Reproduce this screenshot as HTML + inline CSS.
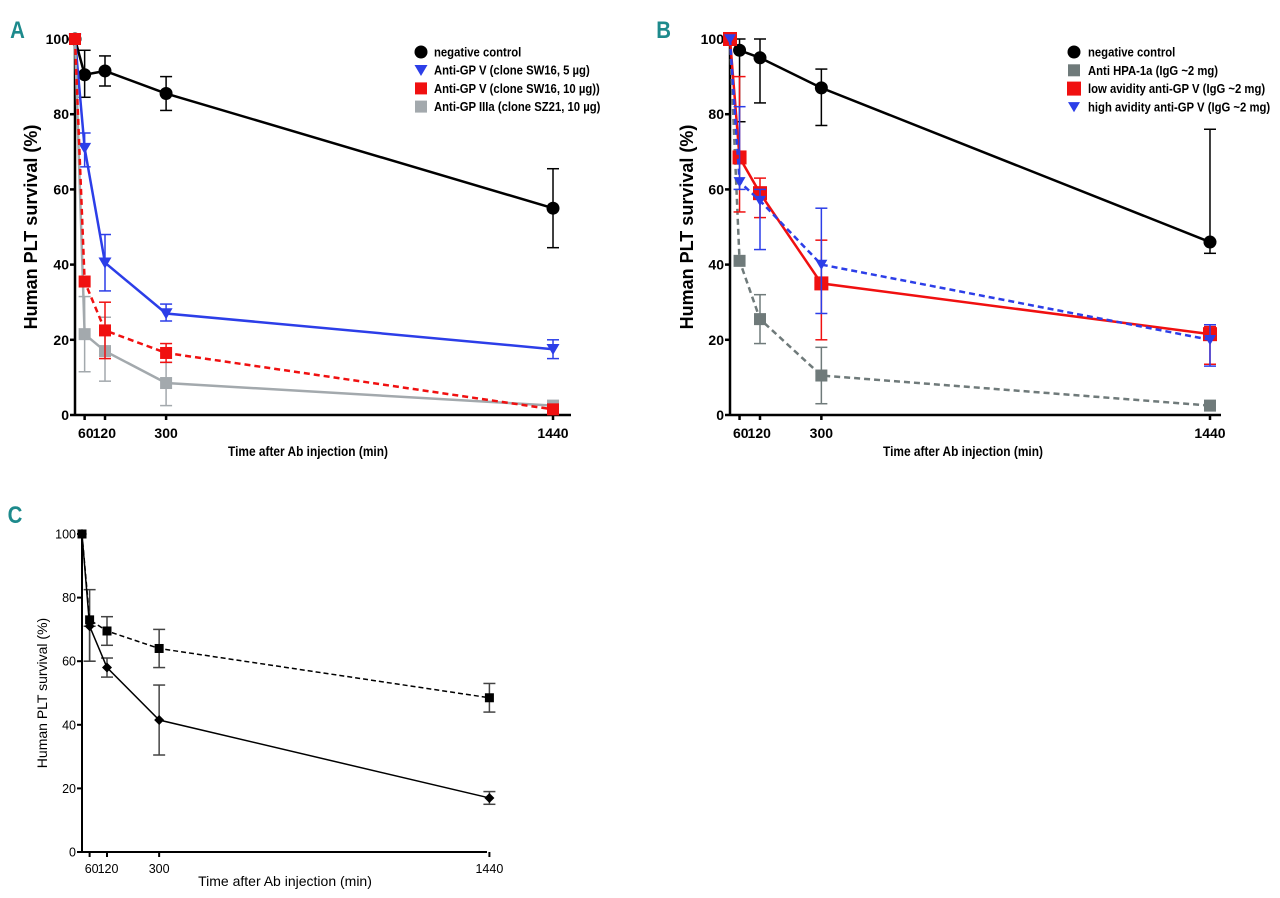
<!DOCTYPE html>
<html><head><meta charset="utf-8"><style>
body{margin:0;background:#fff;}
svg{display:block;font-family:"Liberation Sans",sans-serif;}
</style></head><body>
<svg id="s" width="1280" height="898" viewBox="0 0 1280 898">
<text x="10" y="38" font-size="24" font-weight="bold" fill="#1d8a8c" transform="scale(0.85,1) translate(2,0)">A</text>
<text x="772" y="38" font-size="24" font-weight="bold" fill="#1d8a8c" transform="scale(0.85,1)">B</text>
<text x="9" y="523" font-size="24" font-weight="bold" fill="#1d8a8c" transform="scale(0.85,1)">C</text>
</svg>
<script>
const times=[0,60,120,300,1440];
const tickLabels=["60","120","300","1440"];
const yTicks=[0,20,40,60,80,100];
// Panel A
const aNeg=[100,90.5,91.5,85.5,55], aNegLo=[100,84.5,87.5,81,44.5], aNegHi=[100,97,95.5,90,65.5];
const aBlue=[100,71,40.5,27,17.5], aBlueLo=[100,66,33,25,15], aBlueHi=[100,75,48,29.5,20];
const aRed=[100,35.5,22.5,16.5,1.5], aRedLo=[100,35.5,15,14,1.5], aRedHi=[100,35.5,30,19,1.5];
const aGray=[100,21.5,17,8.5,2.5], aGrayLo=[100,11.5,9,2.5,2.5], aGrayHi=[100,31.5,26,14,2.5];
// Panel B
const bNeg=[100,97,95,87,46], bNegLo=[100,78,83,77,43], bNegHi=[100,100,100,92,76];
const bGray=[100,41,25.5,10.5,2.5], bGrayLo=[100,41,19,3,2.5], bGrayHi=[100,41,32,18,2.5];
const bRed=[100,68.5,59,35,21.5], bRedLo=[100,54,52.5,20,13.5], bRedHi=[100,90,63,46.5,23.5];
const bBlue=[100,62,57,40,20], bBlueLo=[100,60,44,27,13], bBlueHi=[100,82,60,55,24];
// Panel C
const cDash=[100,73,69.5,64,48.5], cDashLo=[100,60,65,58,44], cDashHi=[100,82.5,74,70,53];
const cSolid=[100,71,58,41.5,17], cSolidLo=[100,60,55,30.5,15], cSolidHi=[100,71,61,52.5,19];

const NS="http://www.w3.org/2000/svg";
const svg=document.getElementById('s');
function mk(tag,attrs,parent){const e=document.createElementNS(NS,tag);for(const k in attrs)e.setAttribute(k,attrs[k]);(parent||svg).appendChild(e);return e;}

function panel(cfg){
  const g=mk('g',{});
  
  
  const xs=t=>Math.max(cfg.x0, cfg.x120+(t-120)*cfg.k);
  const ys=v=>cfg.y0-(v/100)*(cfg.y0-cfg.y100);
  const sw=cfg.axisW;
  const ax=mk('line',{x1:cfg.x0,y1:cfg.y0,x2:cfg.xEnd,y2:cfg.y0,stroke:'#000','stroke-width':sw},g);
  
  const ay=mk('line',{x1:cfg.x0,y1:cfg.y0,x2:cfg.x0,y2:cfg.y100-2,stroke:'#000','stroke-width':sw},g);
  
  yTicks.forEach(v=>{
    mk('line',{x1:cfg.x0-5,y1:ys(v),x2:cfg.x0,y2:ys(v),stroke:'#000','stroke-width':sw},g);
    const t=mk('text',{x:cfg.x0-6,y:ys(v)+cfg.tfs*0.36,'text-anchor':'end','font-size':cfg.tfs,'font-weight':cfg.bold?'bold':'normal'},g);
    t.textContent=v;
    
  });
  times.slice(1).forEach((tm,i)=>{
    mk('line',{x1:xs(tm),y1:cfg.y0,x2:xs(tm),y2:cfg.y0+5,stroke:'#000','stroke-width':sw},g);
    const lab=tickLabels[i];
    let x=xs(tm);
    const t=mk('text',{x:x,y:cfg.y0+cfg.tlY,'text-anchor':lab==="60"?'end':(lab==="120"?'start':'middle'),'font-size':cfg.tfs,'font-weight':cfg.bold?'bold':'normal'},g);
    if(lab==="60"){t.setAttribute('x',xs(60)+9);}
    if(lab==="120"){t.setAttribute('x',xs(60)+8);}
    t.textContent=lab;
    
  });
  const xt=mk('text',{x:cfg.xtX,y:cfg.y0+cfg.xtY,'text-anchor':'middle','font-size':cfg.xfs,'font-weight':cfg.bold?'bold':'normal',transform:cfg.bold?`translate(${cfg.xtX},0) scale(0.85,1) translate(${-cfg.xtX},0)`:''},g);
  xt.textContent='Time after Ab injection (min)';
  
  const yt=mk('text',{x:0,y:0,'text-anchor':'middle','font-size':cfg.yfs,'font-weight':cfg.bold?'bold':'normal',transform:`translate(${cfg.ytX},${(cfg.y0+cfg.y100)/2}) rotate(-90)`},g);
  yt.textContent='Human PLT survival (%)';
  

  cfg.series.forEach(s=>{
    const sg=mk('g',{},g);
    
    s.vals.forEach((v,i)=>{
      if(i===0)return;
      const x=xs(times[i]);
      if(s.hi[i]!==s.lo[i]){
        mk('line',{x1:x,y1:ys(s.lo[i]),x2:x,y2:ys(s.hi[i]),stroke:s.ec,'stroke-width':1.5},sg);
        mk('line',{x1:x-6,y1:ys(s.lo[i]),x2:x+6,y2:ys(s.lo[i]),stroke:s.ec,'stroke-width':1.5},sg);
        mk('line',{x1:x-6,y1:ys(s.hi[i]),x2:x+6,y2:ys(s.hi[i]),stroke:s.ec,'stroke-width':1.5},sg);
      }
    });
    const pts=s.vals.map((v,i)=>xs(times[i])+','+ys(v)).join(' ');
    const pl=mk('polyline',{points:pts,fill:'none',stroke:s.color,'stroke-width':s.lw,'stroke-dasharray':s.dash||''},sg);
    
    s.vals.forEach((v,i)=>{
      const m=marker(s.marker,xs(times[i]),ys(v),s.ms,s.color,sg);
      
    });
  });
  if(cfg.legend){
    cfg.legend.order.forEach((si,i)=>{
      const s=cfg.series[si];
      const ly=cfg.legend.y+i*cfg.legend.dy;
      const m=marker(s.marker,cfg.legend.x,ly,s.ms,s.color,g);
      
      const t=mk('text',{x:cfg.legend.tx,y:ly+4.5,'font-size':13,'font-weight':'bold',transform:`translate(${cfg.legend.tx},0) scale(0.87,1) translate(${-cfg.legend.tx},0)`},g);
      t.textContent=s.label;
      
    });
  }
}
function marker(type,x,y,sz,c,parent){
  const h=sz/2;
  if(type==='circle')return mk('circle',{cx:x,cy:y,r:h,fill:c},parent);
  if(type==='square')return mk('rect',{x:x-h,y:y-h,width:sz,height:sz,fill:c},parent);
  if(type==='tri')return mk('polygon',{points:`${x-h},${y-h*0.8} ${x+h},${y-h*0.8} ${x},${y+h*0.9}`,fill:c},parent);
  if(type==='diamond')return mk('polygon',{points:`${x},${y-h} ${x+h},${y} ${x},${y+h} ${x-h},${y}`,fill:c},parent);
}

panel({name:'panel-a',x0:75,x120:105,k:0.3394,xEnd:571,y0:415,y100:39,axisW:2.5,tfs:14,bold:true,tlY:23,xtX:308,xtY:41,xfs:14,ytX:37,yfs:18,
  legend:{x:421,tx:434,y:52,dy:18.2,order:[0,1,3,2]},
  series:[
    {name:'negative-control-a',label:'negative control',vals:aNeg,lo:aNegLo,hi:aNegHi,color:'#000',ec:'#000',marker:'circle',ms:13,lw:2.5},
    {name:'anti-gpv-5ug',label:'Anti-GP V (clone SW16, 5 µg)',vals:aBlue,lo:aBlueLo,hi:aBlueHi,color:'#2c3ee8',ec:'#2c3ee8',marker:'tri',ms:13,lw:2.5},
    {name:'anti-gpiiia-10ug',label:'Anti-GP IIIa (clone SZ21, 10 µg)',vals:aGray,lo:aGrayLo,hi:aGrayHi,color:'#a3a9ad',ec:'#a3a9ad',marker:'square',ms:12,lw:2.5},
    {name:'anti-gpv-10ug',label:'Anti-GP V (clone SW16, 10 µg))',vals:aRed,lo:aRedLo,hi:aRedHi,color:'#f01010',ec:'#f01010',marker:'square',ms:12,lw:2.5,dash:'6,4'}
  ]});
panel({name:'panel-b',x0:730,x120:760,k:0.3409,xEnd:1221,y0:415,y100:39,axisW:2.5,tfs:14,bold:true,tlY:23,xtX:963,xtY:41,xfs:14,ytX:693,yfs:18,
  legend:{x:1074,tx:1088,y:52,dy:18.3,order:[0,1,2,3]},
  series:[
    {name:'negative-control-b',label:'negative control',vals:bNeg,lo:bNegLo,hi:bNegHi,color:'#000',ec:'#000',marker:'circle',ms:13,lw:2.5},
    {name:'anti-hpa-1a',label:'Anti HPA-1a (IgG ~2 mg)',vals:bGray,lo:bGrayLo,hi:bGrayHi,color:'#6f7a7a',ec:'#6f7a7a',marker:'square',ms:12,lw:2.5,dash:'6,4'},
    {name:'low-avidity-anti-gpv',label:'low avidity anti-GP V (IgG ~2 mg)',vals:bRed,lo:bRedLo,hi:bRedHi,color:'#f01010',ec:'#f01010',marker:'square',ms:14,lw:2.5},
    {name:'high-avidity-anti-gpv',label:'high avidity anti-GP V (IgG ~2 mg)',vals:bBlue,lo:bBlueLo,hi:bBlueHi,color:'#2c3ee8',ec:'#2c3ee8',marker:'tri',ms:12,lw:2.5,dash:'6,4'}
  ]});
panel({name:'panel-c',x0:82,x120:107,k:0.2897,xEnd:487,y0:852,y100:534,axisW:2,tfs:12.5,bold:false,tlY:21,xtX:285,xtY:34,xfs:14,ytX:47,yfs:14,
  series:[
    {name:'dashed-square-series',label:'',vals:cDash,lo:cDashLo,hi:cDashHi,color:'#000',ec:'#444',marker:'square',ms:9,lw:1.5,dash:'5,3'},
    {name:'solid-diamond-series',label:'',vals:cSolid,lo:cSolidLo,hi:cSolidHi,color:'#000',ec:'#444',marker:'diamond',ms:10,lw:1.5}
  ]});
</script>
</body></html>
